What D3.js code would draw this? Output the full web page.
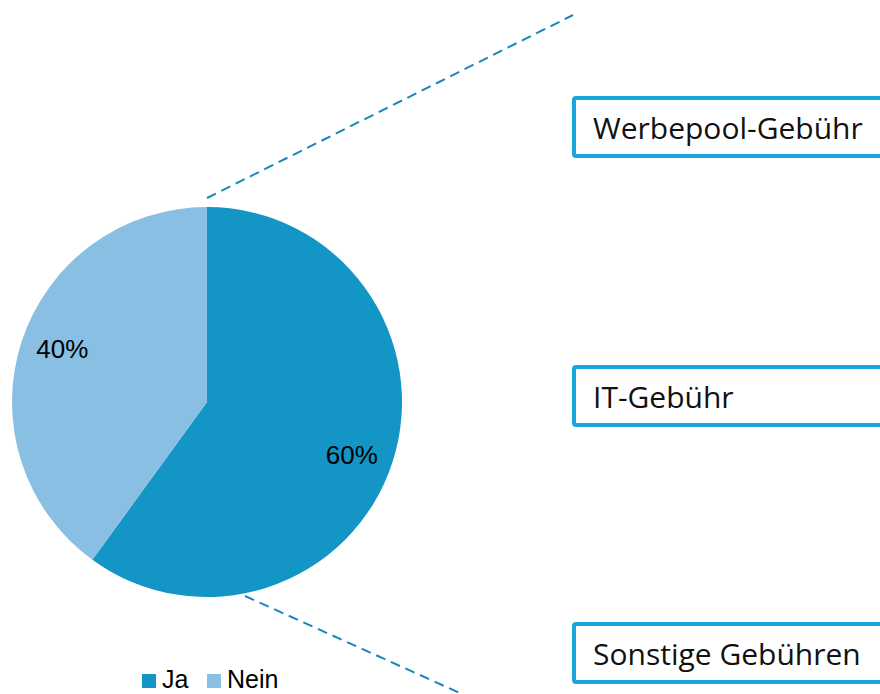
<!DOCTYPE html>
<html>
<head>
<meta charset="utf-8">
<script src="https://cdn.jsdelivr.net/npm/d3@7"></script>
<style>
  html, body { margin: 0; padding: 0; background: #fff; }
  svg { display: block; }
</style>
</head>
<body>
<svg id="chart" width="880" height="694"></svg>
<script>
// Share of answers
const categories = ["Ja", "Nein"];
const values = [60, 40];
const colors = ["#1395c5", "#88bfe3"];

// Fee types listed in the boxes on the right
const feeLabels = ["Werbepool-Gebühr", "IT-Gebühr", "Sonstige Gebühren"];

const svg = d3.select("#chart");

const cx = 207, cy = 402, r = 195;

const pie = d3.pie().sort(null).value(d => d.value);
const arcs = pie(categories.map((c, i) => ({ cat: c, value: values[i] })));
const arc = d3.arc().innerRadius(0).outerRadius(r);
const color = d3.scaleOrdinal().domain(categories).range(colors);

// Dashed connector lines fanning out from the pie to the boxes
const conn = svg.append("g")
  .attr("stroke", "#1786b8")
  .attr("stroke-width", 2)
  .attr("stroke-dasharray", "10,6")
  .attr("fill", "none");
conn.append("line").attr("x1", 207).attr("y1", 198).attr("x2", 573).attr("y2", 15);
conn.append("line").attr("x1", 245).attr("y1", 596).attr("x2", 462).attr("y2", 694);

const g = svg.append("g").attr("transform", `translate(${cx},${cy})`);
g.selectAll("path.slice")
  .data(arcs)
  .join("path")
  .attr("class", "slice")
  .attr("d", arc)
  .attr("fill", d => color(d.data.cat));

// Percentage labels, placed a little further round the slice than its middle
const labelR = r * 0.79;
g.selectAll("text.pct")
  .data(arcs)
  .join("text")
  .attr("class", "pct")
  .attr("transform", d => {
    const a = (d.startAngle + d.endAngle) / 2 + 0.035;
    return `translate(${labelR * Math.sin(a)},${-labelR * Math.cos(a)})`;
  })
  .attr("text-anchor", "middle")
  .attr("dy", "0.35em")
  .attr("font-family", "Liberation Sans, Arial, sans-serif")
  .attr("font-size", 26)
  .attr("fill", "#000")
  .text(d => d.data.value + "%");

// Legend
const legend = svg.append("g")
  .attr("font-family", "Liberation Sans, Arial, sans-serif")
  .attr("font-size", 25);
const legX = [142, 207];
categories.forEach((c, i) => {
  legend.append("rect")
    .attr("x", legX[i]).attr("y", 674)
    .attr("width", 14).attr("height", 14)
    .attr("fill", color(c));
  legend.append("text")
    .attr("x", legX[i] + 20).attr("y", 688)
    .attr("fill", "#000")
    .text(c);
});

// Boxes on the right
const boxTops = [96, 365, 622];
const boxes = svg.append("g");
feeLabels.forEach((t, i) => {
  boxes.append("rect")
    .attr("x", 574).attr("y", boxTops[i] + 2)
    .attr("width", 330).attr("height", 58)
    .attr("rx", 2)
    .attr("fill", "#fff")
    .attr("stroke", "#1aa6dc")
    .attr("stroke-width", 4);
  boxes.append("text")
    .attr("x", 593).attr("y", boxTops[i] + 43)
    .attr("font-family", "Open Sans, Noto Sans, sans-serif")
    .attr("font-size", 30)
    .attr("fill", "#111")
    .text(t);
});
</script>
</body>
</html>
